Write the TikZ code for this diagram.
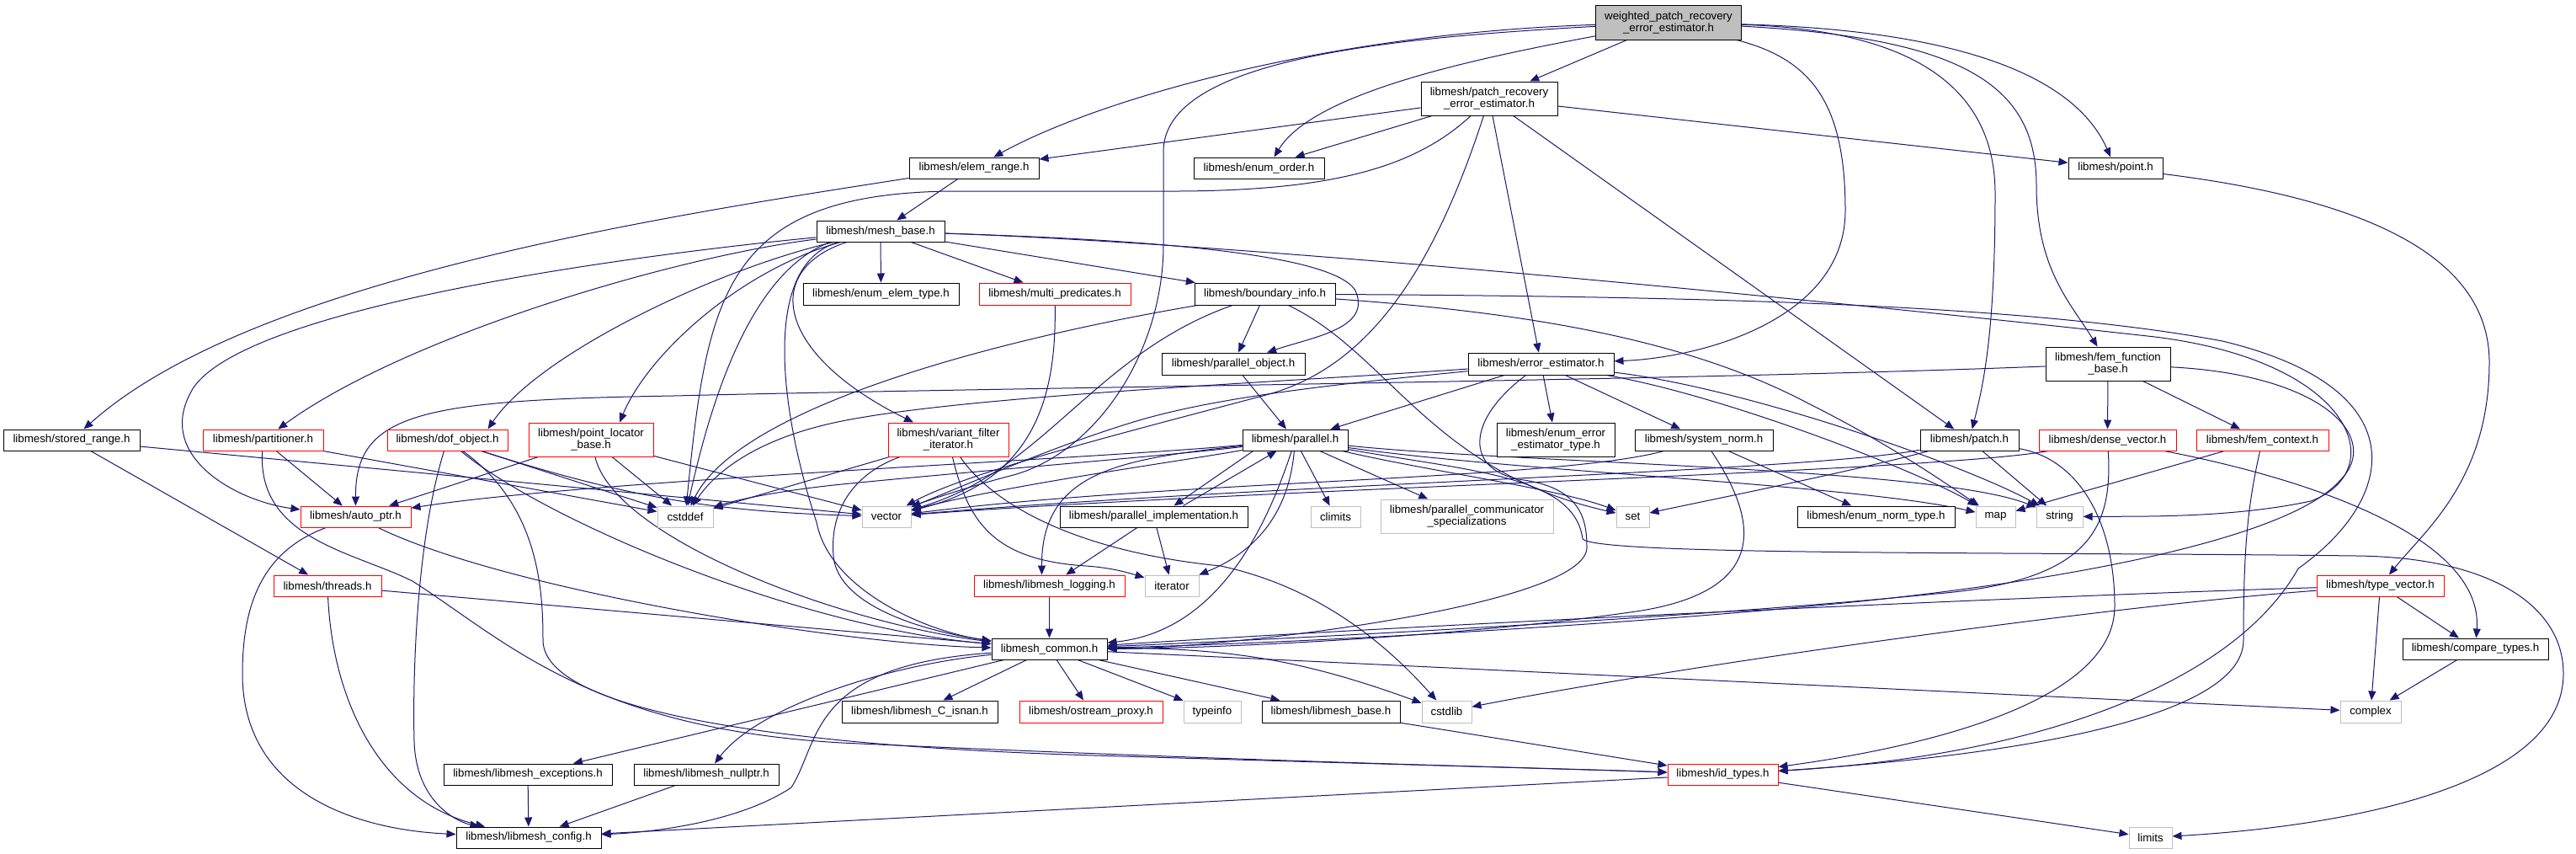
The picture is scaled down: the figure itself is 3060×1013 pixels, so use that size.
\documentclass[tikz,border=0pt]{standalone}
\usepackage{fontspec}
\setmainfont{Liberation Sans}
\usetikzlibrary{arrows.meta}
\definecolor{edgecol}{HTML}{191970}
\definecolor{sysgray}{HTML}{BFBFBF}
\newcommand\nf{\fontsize{13.3pt}{14pt}\selectfont}
\pgfdeclarelayer{back}
\pgfdeclarelayer{edges}
\pgfsetlayers{back,edges,main}
\tikzset{
  nd/.style={draw=black, fill=white, line width=1.0pt, inner sep=0pt, font=\nf, align=center, text=black},
  ndr/.style={nd, draw=red},
  ndg/.style={nd, draw=sysgray},
  ndm/.style={nd, fill=sysgray},
  dep/.style={draw=edgecol, line width=1.0pt, -{Triangle[length=11pt,width=9pt]}}
}
\begin{document}
\begin{tikzpicture}[x=1pt,y=-1pt]
\begin{pgfonlayer}{back}
\fill[white] (0,0) rectangle (3060,1013);
\end{pgfonlayer}
\useasboundingbox (0,0) rectangle (3060,1013);
% nodes
\node[ndm, minimum width=173pt, minimum height=41pt] (W) at (1982,26.5) {weighted\_patch\_recovery\\\_error\_estimator.h};
\node[nd, minimum width=162pt, minimum height=40pt] (PRE) at (1769,117) {libmesh/patch\_recovery\\\_error\_estimator.h};
\node[nd, minimum width=154pt, minimum height=25pt] (ER) at (1157,199.5) {libmesh/elem\_range.h};
\node[nd, minimum width=155pt, minimum height=25pt] (EO) at (1495.5,199.5) {libmesh/enum\_order.h};
\node[nd, minimum width=112pt, minimum height=25pt] (PT) at (2513,199.5) {libmesh/point.h};
\node[nd, minimum width=152pt, minimum height=25pt] (MB) at (1046,274.5) {libmesh/mesh\_base.h};
\node[nd, minimum width=185pt, minimum height=26pt] (ENET) at (1046.5,349) {libmesh/enum\_elem\_type.h};
\node[ndr, minimum width=180pt, minimum height=26pt] (MP) at (1253,349) {libmesh/multi\_predicates.h};
\node[nd, minimum width=167pt, minimum height=26pt] (BI) at (1502.5,349) {libmesh/boundary\_info.h};
\node[nd, minimum width=170pt, minimum height=26pt] (PO) at (1465,432) {libmesh/parallel\_object.h};
\node[nd, minimum width=173pt, minimum height=26pt] (EE) at (1830.5,432) {libmesh/error\_estimator.h};
\node[nd, minimum width=148pt, minimum height=40pt] (FFB) at (2504,432) {libmesh/fem\_function\\\_base.h};
\node[nd, minimum width=162pt, minimum height=25pt] (SR) at (85,522.5) {libmesh/stored\_range.h};
\node[ndr, minimum width=143pt, minimum height=25pt] (PART) at (312.5,522.5) {libmesh/partitioner.h};
\node[ndr, minimum width=143pt, minimum height=25pt] (DOF) at (531.5,522.5) {libmesh/dof\_object.h};
\node[ndr, minimum width=148pt, minimum height=40pt] (PLB) at (702,522) {libmesh/point\_locator\\\_base.h};
\node[ndr, minimum width=143pt, minimum height=40pt] (VFI) at (1126.5,522) {libmesh/variant\_filter\\\_iterator.h};
\node[nd, minimum width=125pt, minimum height=25pt] (PAR) at (1538.5,522.5) {libmesh/parallel.h};
\node[nd, minimum width=140pt, minimum height=40pt] (EEET) at (1848,522) {libmesh/enum\_error\\\_estimator\_type.h};
\node[nd, minimum width=164pt, minimum height=25pt] (SN) at (2024,522.5) {libmesh/system\_norm.h};
\node[nd, minimum width=117pt, minimum height=25pt] (PATCH) at (2339.5,522.5) {libmesh/patch.h};
\node[ndr, minimum width=163pt, minimum height=25pt] (DV) at (2503.5,522.5) {libmesh/dense\_vector.h};
\node[ndr, minimum width=157pt, minimum height=25pt] (FC) at (2687.5,522.5) {libmesh/fem\_context.h};
\node[ndr, minimum width=131pt, minimum height=25pt] (AP) at (422.5,613.5) {libmesh/auto\_ptr.h};
\node[ndg, minimum width=66pt, minimum height=25pt] (CSD) at (814,613.5) {cstddef};
\node[ndg, minimum width=58pt, minimum height=25pt] (VEC) at (1053,613.5) {vector};
\node[nd, minimum width=223pt, minimum height=25pt] (PI) at (1370.5,613.5) {libmesh/parallel\_implementation.h};
\node[ndg, minimum width=59pt, minimum height=25pt] (CLIM) at (1586.5,613.5) {climits};
\node[ndg, minimum width=205pt, minimum height=40pt] (PCS) at (1742.5,613) {libmesh/parallel\_communicator\\\_specializations};
\node[ndg, minimum width=39pt, minimum height=25pt] (SET) at (1939.5,613.5) {set};
\node[nd, minimum width=187pt, minimum height=25pt] (ENT) at (2228.5,613.5) {libmesh/enum\_norm\_type.h};
\node[ndg, minimum width=47pt, minimum height=25pt] (MAP) at (2370.5,613.5) {map};
\node[ndg, minimum width=55pt, minimum height=25pt] (STR) at (2446.5,613.5) {string};
\node[ndr, minimum width=128pt, minimum height=25pt] (THR) at (389,695.5) {libmesh/threads.h};
\node[ndr, minimum width=179pt, minimum height=25pt] (LOG) at (1246.5,695.5) {libmesh/libmesh\_logging.h};
\node[ndg, minimum width=64pt, minimum height=25pt] (ITER) at (1392,695.5) {iterator};
\node[ndr, minimum width=151pt, minimum height=25pt] (TV) at (2827.5,695.5) {libmesh/type\_vector.h};
\node[nd, minimum width=137pt, minimum height=25pt] (COM) at (1246.5,770.5) {libmesh\_common.h};
\node[nd, minimum width=173pt, minimum height=25pt] (CMP) at (2940.5,770.5) {libmesh/compare\_types.h};
\node[nd, minimum width=185pt, minimum height=26pt] (CISN) at (1092.5,845) {libmesh/libmesh\_C\_isnan.h};
\node[ndr, minimum width=170pt, minimum height=26pt] (OSP) at (1296,845) {libmesh/ostream\_proxy.h};
\node[ndg, minimum width=68pt, minimum height=26pt] (TYPI) at (1440,845) {typeinfo};
\node[nd, minimum width=164pt, minimum height=26pt] (BASE) at (1581,845) {libmesh/libmesh\_base.h};
\node[ndg, minimum width=59pt, minimum height=26pt] (CSL) at (1718.5,845) {cstdlib};
\node[ndg, minimum width=72pt, minimum height=26pt] (CPLX) at (2816,845) {complex};
\node[nd, minimum width=200pt, minimum height=25pt] (EXC) at (627,919.5) {libmesh/libmesh\_exceptions.h};
\node[nd, minimum width=172pt, minimum height=25pt] (NUL) at (839,919.5) {libmesh/libmesh\_nullptr.h};
\node[ndr, minimum width=131pt, minimum height=25pt] (IDT) at (2046.5,919.5) {libmesh/id\_types.h};
\node[nd, minimum width=172pt, minimum height=25pt] (CFG) at (628,994.5) {libmesh/libmesh\_config.h};
\node[ndg, minimum width=51pt, minimum height=25pt] (LIM) at (2554.5,994.5) {limits};
% edges
\begin{pgfonlayer}{edges}
% W
\draw[dep] (W) -- (PRE);
\draw[dep] (W) .. controls (1570,40) and (1300,120) .. (ER);
\draw[dep] (W) .. controls (1750,70) and (1560,110) .. ([xshift=18pt]EO.north);
\draw[dep] (W) .. controls (1650,45) and (1382,70) .. (1382,180) -- (1382,290) .. controls (1382,420) and (1300,540) .. (1200,565) .. controls (1150,578) and (1100,595) .. (VEC);
\draw[dep] (W) .. controls (2150,70) and (2192,120) .. (2192,250) .. controls (2192,380) and (2020,425) .. (EE);
\draw[dep] (W) .. controls (2250,35) and (2370,90) .. (2370,230) .. controls (2370,400) and (2355,460) .. (PATCH);
\draw[dep] (W) .. controls (2330,45) and (2419,100) .. (2419,220) .. controls (2419,320) and (2460,360) .. (FFB);
\draw[dep] (W) .. controls (2300,35) and (2460,80) .. (PT);
% PRE
\draw[dep] (PRE) -- (ER);
\draw[dep] (PRE) -- (EO);
\draw[dep] (PRE) .. controls (1680,200) and (1580,226) .. (1400,227) -- (1130,227) .. controls (860,230) and (840,350) .. (CSD);
\draw[dep] (PRE) .. controls (1700,330) and (1620,440) .. (1500,470) .. controls (1350,510) and (1150,560) .. (VEC);
\draw[dep] (PRE) -- (EE);
\draw[dep] (PRE) -- (PATCH);
\draw[dep] (PRE) -- (PT);
% ER, PT
\draw[dep] (ER) -- (MB);
\draw[dep] (ER) .. controls (800,255) and (300,330) .. (SR);
\draw[dep] (PT) .. controls (2800,235) and (2957,300) .. (2957,430) .. controls (2957,570) and (2880,630) .. (TV);
% MB
\draw[dep] (MB) -- (ENET);
\draw[dep] (MB) -- (MP);
\draw[dep] (MB) -- (BI);
\draw[dep] (MB) .. controls (1300,283) and (1580,295) .. (1610,345) .. controls (1630,390) and (1560,400) .. (PO);
\draw[dep] (MB) .. controls (1500,290) and (2200,360) .. (2560,400) .. controls (2800,430) and (2840,560) .. (2745,595) .. controls (2650,615) and (2550,613) .. (STR);
\draw[dep] (MB) .. controls (800,305) and (480,400) .. (PART);
\draw[dep] (MB) .. controls (780,300) and (300,360) .. (230,460) .. controls (180,540) and (280,595) .. (AP);
\draw[dep] (MB) .. controls (850,320) and (640,420) .. ([xshift=48pt]DOF.north);
\draw[dep] (MB) .. controls (880,320) and (770,420) .. ([xshift=34pt]PLB.north);
\draw[dep] ([xshift=-40pt]MB.south) .. controls (905,320) and (920,420) .. (VFI);
\draw[dep] ([xshift=-60pt]MB.south) .. controls (900,320) and (850,450) .. (CSD);
\draw[dep] ([xshift=-50pt]MB.south) .. controls (900,315) and (930,500) .. (970,620) .. controls (985,700) and (1100,750) .. (COM);
% MP, BI, PO
\draw[dep] (MP) .. controls (1255,470) and (1230,570) .. (VEC);
\draw[dep] (BI) .. controls (1200,400) and (880,480) .. (CSD);
\draw[dep] (BI) .. controls (1300,420) and (1240,560) .. (VEC);
\draw[dep] (BI) -- (PO);
\draw[dep] (BI) .. controls (1650,420) and (1700,560) .. (SET);
\draw[dep] (BI) .. controls (1800,370) and (2000,400) .. (2150,480) .. controls (2250,530) and (2320,580) .. (MAP);
\draw[dep] (BI) .. controls (2000,352) and (2400,360) .. (2640,405) .. controls (2870,460) and (2850,590) .. (2730,675) .. controls (2660,800) and (2450,895) .. (IDT);
\draw[dep] (PO) -- (PAR);
% EE
\draw[dep] (EE) .. controls (1500,455) and (1150,470) .. (1000,500) .. controls (900,520) and (850,560) .. (CSD);
\draw[dep] (EE) .. controls (1600,455) and (1450,470) .. (1350,500) .. controls (1250,530) and (1150,575) .. (VEC);
\draw[dep] (EE) -- (PAR);
\draw[dep] (EE) .. controls (1740,500) and (1740,560) .. (1810,570) .. controls (1880,580) and (1885,620) .. (1885,650) .. controls (1885,720) and (1450,770) .. (COM);
\draw[dep] (EE) -- (EEET);
\draw[dep] (EE) -- (SN);
\draw[dep] (EE) .. controls (2050,470) and (2280,560) .. (MAP);
\draw[dep] (EE) .. controls (2070,460) and (2330,550) .. (STR);
% FFB
\draw[dep] (FFB) .. controls (2000,452) and (1200,460) .. (800,470) .. controls (500,475) and (422,490) .. (AP);
\draw[dep] (FFB) -- (DV);
\draw[dep] (FFB) -- (FC);
\draw[dep] (FFB) .. controls (2760,445) and (2830,520) .. (2780,570) .. controls (2720,640) and (2450,690) .. (2200,715) .. controls (1900,745) and (1500,765) .. (COM);
% SR, PART
\draw[dep] (SR) -- (THR);
\draw[dep] (SR) -- (VEC);
\draw[dep] (PART) -- (AP);
\draw[dep] (PART) -- (CSD);
\draw[dep] (PART) .. controls (305,640) and (420,655) .. (490,690) .. controls (600,760) and (700,865) .. (1000,882) .. controls (1500,905) and (1850,912) .. (IDT);
% DOF
\draw[dep] (DOF) .. controls (495,640) and (490,800) .. (492,880) .. controls (494,950) and (540,975) .. (CFG);
\draw[dep] (DOF) .. controls (640,600) and (645,700) .. (645,760) .. controls (645,840) and (900,885) .. (1300,897) .. controls (1700,909) and (1900,914) .. (IDT);
\draw[dep] (DOF) .. controls (650,620) and (950,745) .. (COM);
\draw[dep] (DOF) -- (CSD);
\draw[dep] (DOF) to[bend right=8] (VEC);
% PLB
\draw[dep] (PLB) -- (AP);
\draw[dep] (PLB) .. controls (730,640) and (1000,740) .. (COM);
\draw[dep] (PLB) -- (CSD);
\draw[dep] (PLB) -- (VEC);
% VFI
\draw[dep] (VFI) -- (CSD);
\draw[dep] (VFI) .. controls (1020,560) and (985,600) .. (990,660) .. controls (995,720) and (1100,750) .. (COM);
\draw[dep] (VFI) .. controls (1150,620) and (1180,665) .. (1290,672) .. controls (1320,674) and (1340,680) .. (ITER);
\draw[dep] (VFI) .. controls (1180,600) and (1280,655) .. (1450,672) .. controls (1580,700) and (1660,780) .. (CSL);
% PAR
\draw[dep] (PAR) .. controls (1420,545) and (1200,575) .. (VEC);
\draw[dep] (PAR) .. controls (1400,540) and (1150,560) .. (1000,575) .. controls (920,583) and (870,595) .. (CSD);
\draw[dep] (PAR) .. controls (1300,545) and (700,570) .. (AP);
\draw[dep] ([xshift=-50pt]PAR.south) -- ([xshift=24pt]PI.north);
\draw[dep] (PAR) .. controls (1500,640) and (1440,750) .. (COM);
\draw[dep] (PAR) .. controls (1330,545) and (1237,560) .. ([xshift=-9pt]LOG.north);
\draw[dep] (PAR) -- (CLIM);
\draw[dep] (PAR) -- (PCS);
\draw[dep] (PAR) .. controls (1700,560) and (1850,580) .. (SET);
\draw[dep] (PAR) .. controls (1800,560) and (2200,575) .. (MAP);
\draw[dep] (PAR) .. controls (1800,550) and (2300,555) .. (STR);
\draw[dep] (PAR) .. controls (1530,620) and (1480,660) .. (ITER);
\draw[dep] (PAR) .. controls (1750,560) and (1870,565) .. (1880,640) .. controls (1900,660) and (2400,655) .. (2800,660) .. controls (2960,662) and (3045,720) .. (3045,800) .. controls (3045,930) and (2800,980) .. (LIM);
% PI, LOG
\draw[dep] ([xshift=35pt]PI.north) -- ([xshift=-22pt]PAR.south);
\draw[dep] (PI) -- (LOG);
\draw[dep] (PI) -- (ITER);
\draw[dep] (LOG) -- (COM);
% AP, THR
\draw[dep] (AP) .. controls (310,655) and (288,720) .. (288,800) .. controls (288,940) and (420,985) .. (CFG);
\draw[dep] (AP) .. controls (600,700) and (1000,765) .. (COM);
\draw[dep] (THR) -- (COM);
\draw[dep] (THR) .. controls (395,830) and (450,950) .. (CFG);
% SN
\draw[dep] (SN) .. controls (1850,570) and (1400,570) .. (VEC);
\draw[dep] (SN) .. controls (2090,620) and (2100,700) .. (1950,725) .. controls (1750,755) and (1450,770) .. (COM);
\draw[dep] (SN) -- (ENT);
% PATCH
\draw[dep] (PATCH) .. controls (2150,560) and (1500,575) .. (VEC);
\draw[dep] (PATCH) .. controls (2200,560) and (2000,600) .. (SET);
\draw[dep] (PATCH) -- (STR);
\draw[dep] (PATCH) .. controls (2470,545) and (2512,620) .. (2512,720) .. controls (2512,830) and (2300,885) .. (IDT);
% DV
\draw[dep] (DV) .. controls (2300,560) and (1500,580) .. (VEC);
\draw[dep] (DV) .. controls (2510,630) and (2480,690) .. (2300,705) .. controls (2000,735) and (1500,760) .. (COM);
\draw[dep] (DV) .. controls (2750,570) and (2950,640) .. (CMP);
% FC
\draw[dep] (FC) -- (MAP);
\draw[dep] (FC) .. controls (2670,600) and (2665,650) .. (2665,760) .. controls (2665,860) and (2350,900) .. (IDT);
% TV, CMP
\draw[dep] (TV) .. controls (2500,705) and (1800,735) .. (COM);
\draw[dep] (TV) .. controls (2500,720) and (2000,790) .. (CSL);
\draw[dep] (TV) -- (CMP);
\draw[dep] (TV) -- (CPLX);
\draw[dep] (CMP) -- (CPLX);
% COM
\draw[dep] (COM) -- (CISN);
\draw[dep] (COM) -- (OSP);
\draw[dep] (COM) -- (TYPI);
\draw[dep] (COM) -- (BASE);
\draw[dep] (COM) to[bend left=10] (CSL);
\draw[dep] (COM) -- (CPLX);
\draw[dep] (COM) -- (EXC);
\draw[dep] (COM) .. controls (1050,790) and (900,840) .. (NUL);
\draw[dep] (COM) .. controls (960,790) and (975,880) .. (940,935) .. controls (880,975) and (780,988) .. (CFG);
% bottom
\draw[dep] (EXC) -- (CFG);
\draw[dep] (NUL) -- (CFG);
\draw[dep] (BASE) -- (IDT);
\draw[dep] (IDT) -- (CFG);
\draw[dep] (IDT) -- (LIM);
\end{pgfonlayer}
\end{tikzpicture}
\end{document}
